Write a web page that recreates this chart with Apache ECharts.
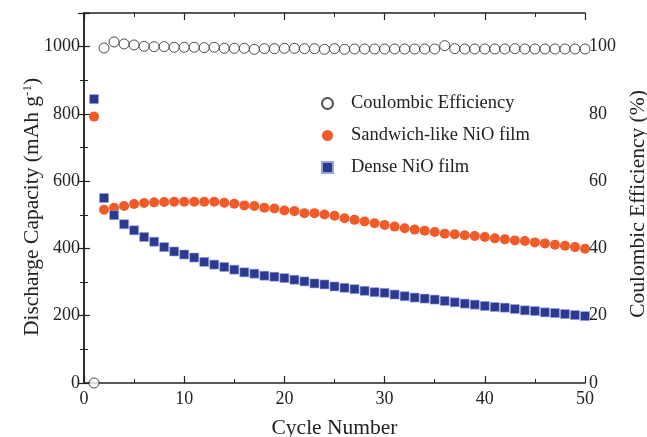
<!DOCTYPE html>
<html>
<head>
<meta charset="utf-8">
<script src="https://cdn.jsdelivr.net/npm/echarts@6/dist/echarts.min.js"></script>
<style>
  html, body { margin: 0; padding: 0; background: #fff; }
  #chart { width: 647px; height: 437px; }
</style>
</head>
<body>
<div id="chart"></div>
<script>
// cycle numbers 1..50
const cycles = [1,2,3,4,5,6,7,8,9,10,11,12,13,14,15,16,17,18,19,20,21,22,23,24,25,
  26,27,28,29,30,31,32,33,34,35,36,37,38,39,40,41,42,43,44,45,46,47,48,49,50];

// Coulombic efficiency (%)
const coulombic = [0,99.6,101.4,100.8,100.5,100.1,100.0,100.0,99.8,99.8,99.8,99.7,99.8,99.5,99.5,
  99.5,99.2,99.4,99.4,99.5,99.5,99.4,99.4,99.2,99.4,99.2,99.3,99.3,99.3,99.3,99.3,99.3,99.3,99.3,99.3,
  100.3,99.4,99.3,99.3,99.3,99.3,99.3,99.4,99.3,99.3,99.3,99.3,99.3,99.3,99.3];

// Sandwich-like NiO film discharge capacity (mAh g-1)
const sandwich = [792,515,521,526,532,535,537,538,539,539,539,539,539,536,533,528,526,521,519,513,
  511,505,505,501,497,490,485,480,475,470,465,460,456,453,449,444,442,439,437,434,
  430,427,424,422,418,415,411,408,404,399];

// Dense NiO film discharge capacity (mAh g-1)
const dense = [844,550,499,472,454,434,420,404,391,382,373,360,352,345,337,329,325,319,316,312,
  307,302,296,293,287,283,279,274,270,268,263,258,254,251,248,244,240,236,233,229,
  226,224,220,216,214,210,208,205,202,199];

const pairs = (ys) => cycles.map((c, i) => [c, ys[i]]);

const serif = 'Liberation Serif';
const ink = '#222';

const chart = echarts.init(document.getElementById('chart'));

const option = {
  backgroundColor: '#fff',
  animation: false,
  grid: { left: 84, right: 62, top: 13, bottom: 54, outerBoundsMode: 'none', containLabel: false },
  legend: {
    orient: 'vertical',
    left: 316,
    top: 89,
    itemWidth: 11,
    itemHeight: 11,
    itemGap: 13,
    textStyle: { fontFamily: serif, fontSize: 18.5, color: ink, padding: [0, 0, 0, 13] },
    data: ['Coulombic Efficiency', 'Sandwich-like NiO film', 'Dense NiO film']
  },
  xAxis: [{
    type: 'value',
    min: 0, max: 50, interval: 10,
    name: 'Cycle Number',
    nameLocation: 'middle',
    nameGap: 34,
    nameMoveOverlap: false,
    nameTextStyle: { fontFamily: serif, fontSize: 21.5, color: ink },
    axisLine: { lineStyle: { color: ink, width: 1.5 } },
    axisTick: { inside: true, length: 7, lineStyle: { color: ink, width: 1.2 } },
    minorTick: { show: true, splitNumber: 2, length: 4, lineStyle: { color: ink, width: 1 } },
    axisLabel: { fontFamily: serif, fontSize: 18, color: ink, margin: 7 },
    splitLine: { show: false }
  }, {
    type: 'value',
    position: 'top',
    min: 0, max: 50, interval: 10,
    axisLine: { onZero: false, lineStyle: { color: ink, width: 1.5 } },
    axisTick: { inside: true, length: 7, lineStyle: { color: ink, width: 1.2 } },
    minorTick: { show: true, splitNumber: 2, length: 4, lineStyle: { color: ink, width: 1 } },
    axisLabel: { show: false },
    splitLine: { show: false }
  }],
  yAxis: [{
    type: 'value',
    min: 0, max: 1100, interval: 200,
    name: 'Discharge Capacity (mAh g{sup|-1})',
    nameLocation: 'middle',
    nameRotate: 90,
    nameGap: 40,
    nameMoveOverlap: false,
    nameTextStyle: {
      fontFamily: serif, fontSize: 21.5, color: ink, padding: [0, 18, 0, 0],
      rich: { sup: { fontFamily: serif, fontSize: 13, color: ink, verticalAlign: 'top', padding: [0, 0, 10, 0] } }
    },
    axisLine: { show: true, lineStyle: { color: ink, width: 1.5 } },
    axisTick: { show: true, inside: true, length: 6, lineStyle: { color: ink, width: 1.2 } },
    minorTick: { show: true, splitNumber: 2, length: 4, lineStyle: { color: ink, width: 1 } },
    axisLabel: {
      fontFamily: serif, fontSize: 18, color: ink, margin: 4,
      formatter: v => (v > 1000 ? '' : v)
    },
    splitLine: { show: false }
  }, {
    type: 'value',
    position: 'right',
    min: 0, max: 110, interval: 20,
    name: 'Coulombic Efficiency (%)',
    nameLocation: 'middle',
    nameRotate: 90,
    nameGap: 42,
    nameMoveOverlap: false,
    nameTextStyle: { fontFamily: serif, fontSize: 21.5, color: ink, padding: [0, 12, 0, 0] },
    axisLine: { show: true, lineStyle: { color: ink, width: 1.5 } },
    axisTick: { show: true, inside: true, length: 6, lineStyle: { color: ink, width: 1.2 } },
    minorTick: { show: true, splitNumber: 2, length: 4, lineStyle: { color: ink, width: 1 } },
    axisLabel: {
      fontFamily: serif, fontSize: 18, color: ink, margin: 4,
      formatter: v => (v > 100 ? '' : v)
    },
    splitLine: { show: false }
  }],
  series: [{
    name: 'Coulombic Efficiency',
    type: 'scatter',
    yAxisIndex: 1,
    symbol: 'circle',
    symbolSize: 10,
    itemStyle: { color: '#fff', borderColor: ink, borderWidth: 1 },
    data: pairs(coulombic),
    z: 3
  }, {
    name: 'Sandwich-like NiO film',
    type: 'scatter',
    yAxisIndex: 0,
    symbol: 'circle',
    symbolSize: 10,
    itemStyle: { color: '#f15a29', opacity: 1 },
    data: pairs(sandwich),
    z: 2
  }, {
    name: 'Dense NiO film',
    type: 'scatter',
    yAxisIndex: 0,
    symbol: 'rect',
    symbolSize: 9,
    itemStyle: { color: '#2b3990', borderColor: '#9aa3d6', borderWidth: 0.6, opacity: 1 },
    data: pairs(dense),
    z: 2
  }]
};

chart.setOption(option);
</script>
</body>
</html>
